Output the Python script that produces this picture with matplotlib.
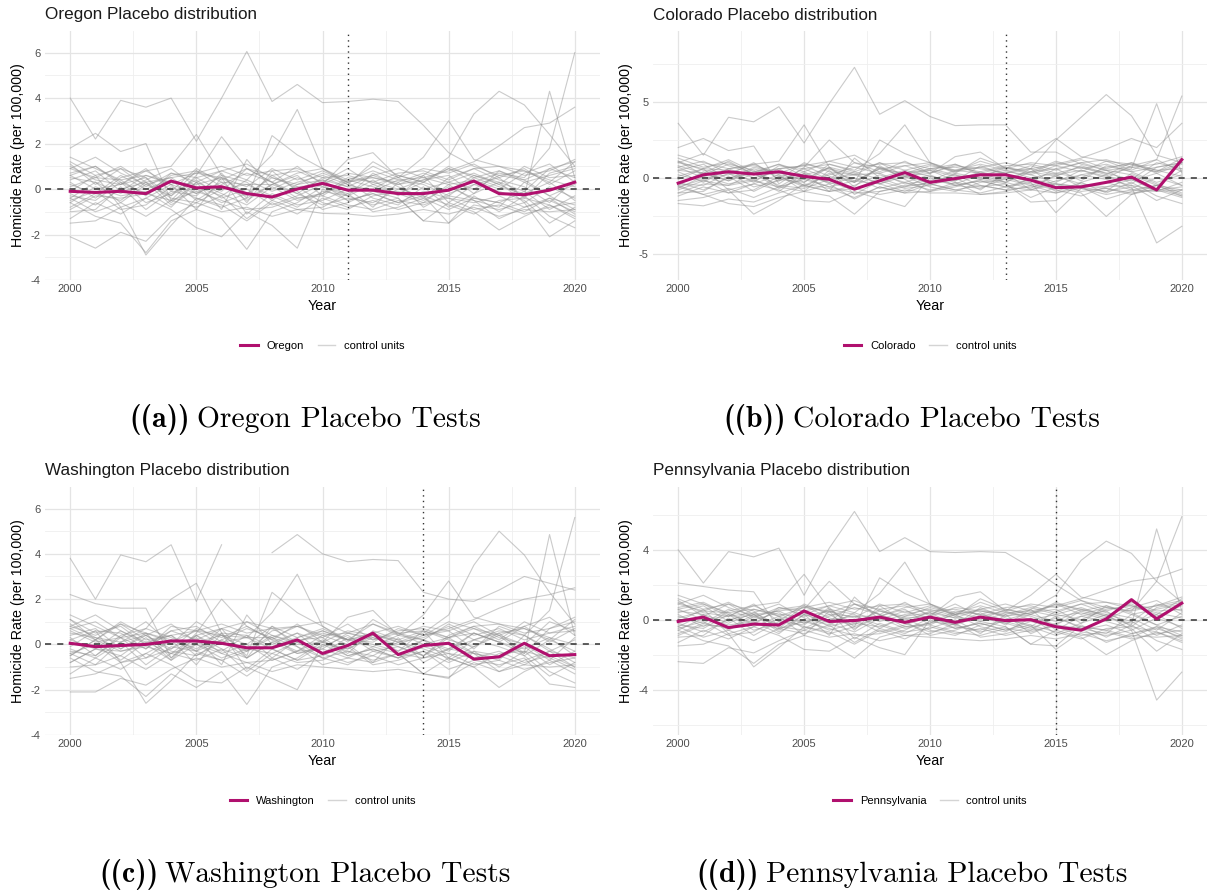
import numpy as np
import matplotlib
matplotlib.use("Agg")
import matplotlib.pyplot as plt
from matplotlib.lines import Line2D

plt.rcParams['font.family'] = ['Liberation Sans', 'DejaVu Sans']

years = list(range(2000, 2021))
nan = float('nan')

# ---- treated states (gap = actual - synthetic) ----
oregon = [-0.1, -0.15, -0.1, -0.2, 0.35, 0.05, 0.1, -0.2, -0.35, 0.0, 0.25,
          -0.05, -0.05, -0.2, -0.2, -0.05, 0.35, -0.2, -0.25, -0.05, 0.3]
colorado = [-0.35, 0.2, 0.4, 0.25, 0.4, 0.1, -0.1, -0.75, -0.2, 0.35, -0.3,
            -0.05, 0.2, 0.2, -0.15, -0.65, -0.6, -0.3, 0.05, -0.8, 1.2]
washington = [0.05, -0.1, -0.05, 0.0, 0.15, 0.15, 0.05, -0.15, -0.15, 0.2, -0.4,
              -0.05, 0.5, -0.45, -0.05, 0.05, -0.65, -0.55, 0.05, -0.5, -0.45]
pennsylvania = [-0.1, 0.15, -0.45, -0.25, -0.3, 0.5, -0.1, -0.05, 0.15, -0.15, 0.15,
                -0.15, 0.15, -0.05, 0.0, -0.4, -0.6, 0.05, 1.15, 0.05, 0.95]

# ---- placebo gaps of the donor states ----
oregon_controls = [
    [4.0, 2.2, 3.9, 3.6, 4.0, 2.1, 4.0, 6.05, 3.85, 4.6, 3.8, 3.85, 3.95, 3.85, 2.8, 1.6, 1.0, 0.6, 0.4, 0.9, 1.2],
    [0.6, 1.0, 0.2, 0.5, -0.3, 0.8, 0.4, 0.9, 0.3, -0.2, 0.5, 0.1, 0.6, 0.2, 0.4, 0.9, 0.3, 0.7, 0.5, 1.8, 6.0],
    [-0.4, 0.3, -0.6, 0.2, 0.5, -0.2, 0.3, -0.5, 0.2, 0.6, -0.3, 0.4, 0.1, -0.2, 0.3, -0.1, 0.6, 0.2, -0.3, 4.3, 0.5],
    [1.2, 0.6, 0.9, 0.1, 0.7, 0.3, 0.8, 1.1, 0.5, 0.2, 0.7, 0.3, 0.5, 0.2, 0.6, 1.4, 3.3, 4.3, 3.7, 2.4, 1.0],
    [1.4, 0.9, 0.4, 0.6, 0.2, 0.7, 0.5, 0.1, 0.9, 0.4, 0.8, 0.3, 0.6, 0.9, 0.5, 0.8, 1.2, 1.9, 2.7, 2.9, 3.6],
    [0.9, 1.4, 0.7, 0.2, -0.3, 0.5, 0.8, 0.4, 1.5, 3.5, 0.9, 0.3, 1.0, 0.5, 1.4, 3.0, 1.3, 1.0, 0.8, 0.3, 1.2],
    [1.8, 2.45, 1.65, 2.0, -0.5, 0.6, 2.3, 0.9, 0.3, 1.0, 0.2, 1.3, 1.6, 0.5, 0.9, 0.7, 1.1, 0.5, 0.9, 0.2, 0.8],
    [1.0, 0.4, 0.2, 0.8, 1.0, 2.4, 0.6, -0.4, 2.35, 1.5, 0.9, 0.2, 1.2, 0.6, 0.3, 1.0, 0.5, 0.8, 0.3, 0.6, 0.9],
    [-2.1, -2.6, -1.9, -2.3, -1.2, -0.6, -1.0, -0.8, -1.2, -0.9, -1.07, -1.1, -1.2, -1.1, -0.9, -1.1, -0.8, -1.2, -0.9, -1.0, -0.9],
    [-1.5, -1.4, -0.8, -2.9, -1.6, -0.4, -0.7, -1.4, -0.6, -1.1, -0.4, -0.8, -0.5, -0.9, -0.6, -0.4, -0.9, -0.7, -1.1, -0.8, -0.6],
    [-0.6, -1.2, -1.5, -2.8, -1.4, -0.9, -1.3, -2.65, -1.0, -0.6, 0.1, -0.3, -0.7, -0.4, -1.4, -0.6, -1.0, -1.8, -1.2, -0.7, -1.3],
    [-1.3, -0.6, -1.1, -0.4, -0.9, -1.7, -2.1, -1.0, -1.6, -2.6, 0.0, -0.5, -0.2, -0.6, -0.3, -1.5, -0.7, -0.9, -0.6, -2.1, -1.4],
    [0.5, 0.3, -0.2, 0.4, 0.9, 0.1, -0.3, 0.4, -0.1, 0.3, 0.6, 0.2, -0.1, 0.4, 0.2, -0.3, 0.5, 0.1, -0.2, 0.3, -0.5],
    [-0.3, -0.5, 0.3, -0.6, -0.2, 0.4, -0.4, 0.0, -0.7, -0.3, 0.2, -0.5, -0.2, -0.6, -0.1, -0.4, -0.6, -0.3, -0.8, -0.5, -1.0],
    [0.2, -0.2, 0.6, 0.0, 0.4, -0.5, 0.2, 0.7, 0.3, -0.4, -0.2, 0.5, 0.3, 0.0, 0.4, 0.6, -0.2, 0.8, 0.4, -0.3, 0.2],
    [-0.8, -0.2, -0.5, 0.3, -0.7, 0.0, -0.6, -0.2, -0.4, 0.1, -0.6, -0.9, -0.3, -0.1, -0.5, 0.1, -0.4, -0.6, -0.1, -0.9, -0.3],
    [0.7, 1.0, 0.3, -0.2, 0.6, 0.8, 0.1, -0.3, 0.6, 0.8, 0.3, 0.9, 0.2, 0.5, 0.0, 0.3, 0.7, 0.2, 1.0, 0.5, 0.6],
    [-0.1, 0.6, -0.8, -0.4, 0.2, -0.9, 0.5, -1.1, -0.2, -0.7, -0.5, 0.0, -0.8, 0.3, -0.8, -0.2, 0.2, -0.1, -0.5, -1.5, -0.8],
    [1.1, 0.2, 0.9, 0.5, -0.6, 0.3, -0.9, 1.3, 0.0, 0.5, 0.1, -0.2, 0.4, -0.3, 0.6, -0.6, 0.2, 0.5, -0.4, 0.7, 1.0],
    [-1.0, -0.9, 0.1, -0.9, -0.1, -0.3, 0.7, -0.6, 0.8, -0.1, -0.9, -0.6, -0.1, -0.4, -1.4, -1.5, -0.3, -1.0, -0.3, -1.2, -1.7],
    [0.3, -0.4, 0.5, 0.8, 0.2, -0.2, 0.6, 0.3, -0.5, 0.2, 0.4, -0.3, 0.7, 0.1, -0.4, 0.5, 0.9, 0.4, 0.1, -0.6, 0.4],
    [-0.6, 0.1, -0.3, -0.1, -0.8, 0.3, -0.2, -0.7, 0.1, -0.5, -0.2, 0.3, -0.4, -0.7, 0.1, -0.8, -0.2, 0.3, -0.6, 0.1, -0.4],
    [0.9, 0.5, 1.0, 0.3, 0.5, 0.7, 1.0, 0.6, 0.8, 0.9, 0.5, 0.6, 0.3, 0.7, 0.8, 0.4, 0.9, 1.0, 0.6, 0.8, 1.3],
    [-0.2, -0.7, 0.0, 0.3, -0.4, -0.6, 0.0, 0.2, -0.3, -0.8, -0.1, -0.3, 0.2, -0.2, -0.6, 0.2, -0.5, -0.8, 0.3, -0.3, -0.9],
    [0.4, 0.8, -0.1, 0.6, 0.3, 0.2, 0.5, -0.2, 0.5, 0.1, 0.2, 0.7, 0.5, 0.3, 0.7, 0.3, 0.0, 0.6, 0.8, 0.4, 0.1],
    [-0.5, -0.1, -0.9, -0.7, 0.1, -0.4, -0.8, -0.4, 0.2, -0.2, -0.7, -0.4, -0.6, 0.0, -0.3, -0.7, -1.1, -0.5, -0.4, -0.7, -1.2],
    [0.1, 0.5, 0.4, -0.3, 0.7, 0.5, -0.1, 0.9, 0.6, 0.0, 0.4, 0.1, 0.0, 0.6, 0.3, 0.9, 0.6, 0.3, -0.1, 0.9, 0.5],
    [-0.9, -0.3, -0.4, -0.2, -0.5, -0.1, -0.5, -0.9, -0.8, -0.4, -0.3, -0.7, -0.9, -0.5, -0.7, -0.3, -0.5, -1.3, -0.8, -0.4, -0.7],
    [0.6, 0.0, 0.2, 0.9, -0.1, 0.9, 0.3, 0.2, 0.2, 0.7, 0.9, 0.4, 0.8, 0.4, 0.5, 0.2, 0.4, 0.0, 0.7, 1.1, 0.3],
    [-0.4, -1.0, -0.6, -1.2, -0.5, -0.8, -0.3, -1.3, -0.5, -0.9, -0.8, -0.2, -1.0, -0.8, -0.4, -0.9, -0.4, -0.6, -1.0, -0.4, -1.1],
]

colorado_controls = [
    [3.6, 1.5, 4.0, 3.7, 4.7, 2.3, 4.9, 7.3, 4.2, 5.1, 4.05, 3.45, 3.5, 3.5, 1.7, 1.7, 0.9, 0.5, 0.7, 0.4, 1.0],
    [0.8, 0.3, 1.1, 0.2, 0.6, -0.3, 0.9, 0.4, 1.0, 0.1, 0.6, 0.9, 0.3, 0.7, 0.2, 0.8, 0.4, 1.1, 0.5, 1.2, 5.4],
    [-0.5, 0.4, -0.2, 0.6, 0.1, -0.6, 0.3, -0.3, 0.7, 0.2, -0.4, 0.3, 0.0, -0.3, 0.4, 0.1, 0.8, 0.3, 0.6, 4.9, 0.3],
    [1.3, 0.7, 1.0, 0.3, 0.9, 0.4, 1.1, 1.5, 0.6, 0.3, 0.8, 0.5, 0.7, 0.3, 0.6, 2.5, 4.0, 5.5, 4.1, 1.5, 1.0],
    [1.5, 1.0, 0.6, 0.8, 0.3, 0.9, 0.6, 0.2, 1.0, 0.5, 0.9, 0.4, 0.7, 1.0, 0.6, 0.9, 1.3, 1.9, 2.6, 2.0, 3.6],
    [1.0, 1.6, 0.8, 0.3, -0.2, 0.6, 0.9, 0.5, 1.6, 3.5, 1.0, 0.4, 1.1, 0.6, 1.5, 2.6, 1.4, 1.1, 0.9, 0.4, 1.3],
    [2.0, 2.6, 1.8, 2.1, -0.4, 0.7, 2.5, 1.0, 0.4, 1.1, 0.3, 1.4, 1.7, 0.6, 1.0, 0.8, 1.2, 0.6, 1.0, 0.3, 0.9],
    [1.1, 0.5, 0.3, 0.9, 1.1, 3.5, 0.7, -0.3, 2.5, 1.6, 1.0, 0.3, 1.3, 0.7, 0.4, 1.1, 0.6, 0.9, 0.4, 0.7, 1.0],
    [-1.7, -1.85, -1.4, -1.6, -1.0, -0.5, -0.9, -0.7, -1.1, -0.8, -1.0, -1.0, -1.1, -1.0, -0.8, -1.0, -0.7, -1.1, -0.8, -0.9, -0.8],
    [-1.5, -1.3, -0.8, -2.4, -1.5, -0.4, -0.7, -1.3, -0.6, -1.0, -0.4, -0.8, -0.5, -0.8, -0.6, -0.4, -0.9, -0.7, -1.0, -0.8, -0.6],
    [-0.6, -1.1, -1.7, -1.9, -1.3, -0.9, -1.2, -2.4, -0.9, -0.6, 0.1, -0.3, -0.6, -0.4, -1.3, -0.6, -1.0, -2.55, -1.1, -0.7, -1.2],
    [-1.2, -0.6, -1.0, -0.4, -0.8, -1.5, -1.6, -0.9, -1.4, -1.9, 0.0, -0.5, -0.2, -0.6, -0.3, -2.3, -0.7, -0.9, -0.6, -4.3, -3.2],
    [0.5, 0.3, -0.2, 0.4, 0.9, 0.1, -0.3, 0.4, -0.1, 0.3, 0.6, 0.2, -0.1, 0.4, 0.2, -0.3, 0.5, 0.1, -0.2, 0.3, -0.5],
    [-0.4, -0.5, 0.3, -0.6, -0.2, 0.4, -0.4, 0.0, -0.7, -0.3, 0.2, -0.5, -0.2, -0.6, -0.1, -0.4, -0.6, -0.3, -0.8, -0.5, -1.1],
    [0.2, -0.2, 0.6, 0.0, 0.4, -0.5, 0.2, 0.7, 0.3, -0.4, -0.2, 0.5, 0.3, 0.0, 0.4, 0.6, -0.2, 0.8, 0.4, -0.3, 0.2],
    [-0.8, -0.2, -0.5, 0.3, -0.7, 0.0, -0.6, -0.2, -0.4, 0.1, -0.6, -0.9, -0.3, -0.1, -0.5, 0.1, -0.4, -0.6, -0.1, -0.9, -0.3],
    [0.7, 1.1, 0.3, -0.2, 0.6, 0.8, 0.1, -0.3, 0.6, 0.8, 0.3, 0.9, 0.2, 0.5, 0.0, 0.3, 0.7, 0.2, 1.0, 0.5, 0.6],
    [-0.1, 0.6, -0.8, -0.4, 0.2, -0.9, 0.5, -1.1, -0.2, -0.7, -0.5, 0.0, -0.8, 0.3, -0.8, -0.2, 0.2, -0.1, -0.5, -1.5, -0.8],
    [1.1, 0.2, 0.9, 0.5, -0.6, 0.3, -0.9, 1.3, 0.0, 0.5, 0.1, -0.2, 0.4, -0.3, 0.6, -0.6, 0.2, 0.5, -0.4, 0.7, 1.0],
    [-1.0, -0.9, 0.1, -0.9, -0.1, -0.3, 0.7, -0.6, 0.8, -0.1, -0.9, -0.6, -0.1, -0.4, -1.6, -1.5, -0.3, -1.0, -0.3, -1.2, -1.7],
    [0.4, -0.3, 0.6, 0.9, 0.2, -0.1, 0.7, 0.3, -0.4, 0.3, 0.5, -0.2, 0.8, 0.2, -0.3, 0.6, 1.0, 0.5, 0.2, -0.5, 0.5],
    [-0.7, 0.1, -0.4, -0.1, -0.9, 0.3, -0.3, -0.8, 0.0, -0.6, -0.3, 0.2, -0.5, -0.8, 0.0, -0.9, -0.3, 0.2, -0.7, 0.0, -0.5],
    [1.0, 0.6, 1.2, 0.4, 0.6, 0.8, 1.1, 0.7, 0.9, 1.0, 0.6, 0.7, 0.4, 0.8, 0.9, 0.5, 1.0, 1.2, 0.7, 0.9, 1.4],
    [-0.3, -0.8, 0.0, 0.3, -0.5, -0.7, -0.1, 0.2, -0.4, -0.9, -0.2, -0.4, 0.2, -0.3, -0.7, 0.2, -0.6, -0.9, 0.3, -0.4, -1.0],
    [0.5, 0.9, -0.1, 0.7, 0.3, 0.2, 0.6, -0.2, 0.6, 0.1, 0.3, 0.8, 0.6, 0.3, 0.8, 0.3, 0.0, 0.7, 0.9, 0.5, 0.1],
    [-0.6, -0.1, -1.0, -0.8, 0.1, -0.5, -0.9, -0.5, 0.2, -0.3, -0.8, -0.5, -0.7, 0.0, -0.4, -0.8, -1.2, -0.6, -0.5, -0.8, -1.3],
    [0.1, 0.6, 0.5, -0.3, 0.8, 0.6, -0.1, 1.0, 0.7, 0.0, 0.5, 0.1, 0.0, 0.7, 0.3, 1.0, 0.7, 0.3, -0.1, 1.0, 0.6],
    [-1.0, -0.4, -0.5, -0.2, -0.6, -0.1, -0.6, -1.0, -0.9, -0.5, -0.4, -0.8, -1.0, -0.6, -0.8, -0.4, -0.6, -1.4, -0.9, -0.5, -0.8],
    [0.7, 0.0, 0.2, 1.0, -0.1, 1.0, 0.4, 0.2, 0.3, 0.8, 1.0, 0.5, 0.9, 0.5, 0.6, 0.2, 0.5, 0.0, 0.8, 1.2, 0.4],
    [-0.5, -1.1, -0.7, -1.3, -0.6, -0.9, -0.4, -1.4, -0.6, -1.0, -0.9, -0.3, -1.1, -0.9, -0.5, -1.0, -0.5, -0.7, -1.1, -0.5, -1.2],
]

washington_controls = [
    [3.8, 2.0, 3.95, 3.65, 4.4, 1.9, 4.4, nan, 4.05, 4.85, 4.0, 3.65, 3.75, 3.7, 2.3, 2.0, 1.9, 2.4, 3.0, 2.7, 2.4],
    [0.7, 0.2, 1.0, 0.4, -0.2, 0.7, 0.3, 0.8, 0.2, -0.3, 0.4, 0.0, 0.5, 0.1, 0.3, 0.8, 0.2, 0.6, 0.4, 1.5, 5.6],
    [-0.5, 0.2, -0.7, 0.1, 0.4, -0.3, 0.2, -0.6, 0.1, 0.5, -0.4, 0.3, 0.0, -0.3, 0.2, -0.2, 0.5, 0.1, -0.4, 4.85, 0.4],
    [1.1, 0.5, 0.8, 0.0, 0.6, 0.2, 0.7, 1.0, 0.4, 0.1, 0.6, 0.2, 0.4, 0.1, 0.5, 1.3, 3.5, 5.0, 3.95, 2.3, 0.9],
    [1.3, 0.8, 0.3, 0.5, 0.1, 0.6, 0.4, 0.0, 0.8, 0.3, 0.7, 0.2, 0.5, 0.8, 0.4, 0.7, 1.1, 1.6, 2.0, 2.2, 2.5],
    [0.8, 1.3, 0.6, 0.1, -0.4, 0.4, 0.7, 0.3, 1.4, 3.1, 0.8, 0.2, 0.9, 0.4, 1.3, 2.8, 1.2, 0.9, 0.7, 0.2, 1.1],
    [2.2, 1.8, 1.6, 1.6, -0.6, 0.5, 2.0, 0.8, 0.2, 0.9, 0.1, 1.2, 1.5, 0.4, 0.8, 0.6, 1.0, 0.4, 0.8, 0.1, 0.7],
    [0.9, 0.3, 0.1, 0.7, 2.0, 2.7, 0.5, -0.5, 2.3, 1.4, 0.8, 0.1, 1.1, 0.5, 0.2, 0.9, 0.4, 0.7, 0.2, 0.5, 0.8],
    [-2.1, -2.1, -1.5, -1.8, -1.1, -0.6, -1.0, -0.8, -1.2, -0.9, -1.0, -1.1, -1.2, -1.1, -1.3, -1.45, -0.8, -1.2, -0.9, -1.0, -0.9],
    [-1.5, -1.3, -0.8, -2.6, -1.6, -0.4, -0.7, -1.4, -0.6, -1.1, -0.4, -0.8, -0.5, -0.9, -0.6, -0.4, -0.9, -0.7, -1.1, -0.8, -0.6],
    [-0.6, -1.2, -1.4, -2.3, -1.3, -1.9, -1.2, -2.65, -1.0, -0.6, 0.1, -0.3, -0.7, -0.4, -1.3, -0.6, -1.0, -1.9, -1.2, -0.7, -1.3],
    [-1.3, -0.6, -1.1, -0.4, -0.9, -1.6, -1.7, -1.0, -1.5, -2.0, 0.0, -0.5, -0.2, -0.6, -0.3, -1.1, -0.7, -0.9, -0.6, -1.75, -1.9],
    [0.5, 0.3, -0.2, 0.4, 0.9, 0.1, -0.3, 0.4, -0.1, 0.3, 0.6, 0.2, -0.1, 0.4, 0.2, -0.3, 0.5, 0.1, -0.2, 0.3, -0.5],
    [-0.3, -0.5, 0.3, -0.6, -0.2, 0.4, -0.4, 0.0, -0.7, -0.3, 0.2, -0.5, -0.2, -0.6, -0.1, -0.4, -0.6, -0.3, -0.8, -0.5, -1.0],
    [0.2, -0.2, 0.6, 0.0, 0.4, -0.5, 0.2, 0.7, 0.3, -0.4, -0.2, 0.5, 0.3, 0.0, 0.4, 0.6, -0.2, 0.8, 0.4, -0.3, 0.2],
    [-0.8, -0.2, -0.5, 0.3, -0.7, 0.0, -0.6, -0.2, -0.4, 0.1, -0.6, -0.9, -0.3, -0.1, -0.5, 0.1, -0.4, -0.6, -0.1, -0.9, -0.3],
    [0.7, 1.0, 0.3, -0.2, 0.6, 0.8, 0.1, -0.3, 0.6, 0.8, 0.3, 0.9, 0.2, 0.5, 0.0, 0.3, 0.7, 0.2, 1.0, 0.5, 0.6],
    [-0.1, 0.6, -0.8, -0.4, 0.2, -0.9, 0.5, -1.1, -0.2, -0.7, -0.5, 0.0, -0.8, 0.3, -0.8, -0.2, 0.2, -0.1, -0.5, -1.4, -0.8],
    [1.1, 0.2, 0.9, 0.5, -0.6, 0.3, -0.9, 1.3, 0.0, 0.5, 0.1, -0.2, 0.4, -0.3, 0.6, -0.6, 0.2, 0.5, -0.4, 0.7, 1.0],
    [-1.0, -0.9, 0.1, -0.9, -0.1, -0.3, 0.7, -0.6, 0.8, -0.1, -0.9, -0.6, -0.1, -0.4, -1.3, -1.5, -0.3, -1.0, -0.3, -1.2, -1.7],
    [0.3, -0.5, 0.4, 0.7, 0.3, -0.2, 0.5, 0.4, -0.6, 0.2, 0.3, -0.4, 0.6, 0.2, -0.5, 0.4, 0.8, 0.3, 0.0, -0.7, 0.3],
    [-0.5, 0.2, -0.3, 0.0, -0.7, 0.4, -0.2, -0.6, 0.1, -0.4, -0.1, 0.4, -0.3, -0.6, 0.2, -0.7, -0.1, 0.4, -0.5, 0.2, -0.3],
    [0.8, 0.4, 0.9, 0.2, 0.4, 0.6, 0.9, 0.5, 0.7, 0.8, 0.4, 0.5, 0.2, 0.6, 0.7, 0.3, 0.8, 0.9, 0.5, 0.7, 1.2],
    [-0.2, -0.6, 0.1, 0.4, -0.3, -0.5, 0.1, 0.3, -0.2, -0.7, 0.0, -0.2, 0.3, -0.1, -0.5, 0.3, -0.4, -0.7, 0.4, -0.2, -0.8],
    [0.4, 0.7, -0.2, 0.5, 0.2, 0.1, 0.4, -0.3, 0.4, 0.0, 0.1, 0.6, 0.4, 0.2, 0.6, 0.2, -0.1, 0.5, 0.7, 0.3, 0.0],
    [-0.4, 0.0, -0.8, -0.6, 0.2, -0.3, -0.7, -0.3, 0.3, -0.1, -0.6, -0.3, -0.5, 0.1, -0.2, -0.6, -1.0, -0.4, -0.3, -0.6, -1.1],
    [0.2, 0.6, 0.5, -0.2, 0.8, 0.6, 0.0, 1.0, 0.7, 0.1, 0.5, 0.2, 0.1, 0.7, 0.4, 1.0, 0.7, 0.4, 0.0, 1.0, 0.6],
    [-0.8, -0.2, -0.3, -0.1, -0.4, 0.0, -0.4, -0.8, -0.7, -0.3, -0.2, -0.6, -0.8, -0.4, -0.6, -0.2, -0.4, -1.2, -0.7, -0.3, -0.6],
    [0.6, 0.1, 0.3, 1.0, 0.0, 1.0, 0.4, 0.3, 0.3, 0.8, 1.0, 0.5, 0.9, 0.5, 0.6, 0.3, 0.5, 0.1, 0.8, 1.2, 0.4],
    [-0.4, -0.9, -0.5, -1.1, -0.4, -0.7, -0.2, -1.2, -0.4, -0.8, -0.7, -0.1, -0.9, -0.7, -0.3, -0.8, -0.3, -0.5, -0.9, -0.3, -1.0],
]

pennsylvania_controls = [
    [4.0, 2.1, 3.9, 3.6, 4.1, 1.4, 4.1, 6.2, 3.9, 4.7, 3.9, 3.85, 3.9, 3.85, 3.0, 2.0, 1.1, 0.7, 0.5, 0.8, 1.1],
    [0.6, 0.9, 0.2, 0.4, -0.3, 0.8, 0.4, 0.9, 0.3, -0.2, 0.5, 0.1, 0.6, 0.2, 0.4, 0.9, 0.3, 0.7, 0.5, 2.2, 5.9],
    [-0.4, 0.3, -0.6, 0.2, 0.5, -0.2, 0.3, -0.5, 0.2, 0.6, -0.3, 0.4, 0.1, -0.2, 0.3, -0.1, 0.6, 0.2, -0.3, 5.2, 0.5],
    [1.2, 0.6, 0.9, 0.1, 0.7, 0.3, 0.8, 1.1, 0.5, 0.2, 0.7, 0.3, 0.5, 0.2, 0.6, 1.4, 3.4, 4.5, 3.8, 2.2, 1.0],
    [1.4, 0.9, 0.4, 0.6, 0.2, 0.7, 0.5, 0.1, 0.9, 0.4, 0.8, 0.3, 0.6, 0.9, 0.5, 0.8, 1.2, 1.7, 2.2, 2.4, 2.9],
    [0.9, 1.4, 0.7, 0.2, -0.3, 0.5, 0.8, 0.4, 1.5, 3.3, 0.9, 0.3, 1.0, 0.5, 1.4, 2.6, 1.3, 1.0, 0.8, 0.3, 1.2],
    [2.1, 1.9, 1.7, 1.6, -0.5, 0.6, 2.2, 0.9, 0.3, 1.0, 0.2, 1.3, 1.6, 0.5, 0.9, 0.7, 1.1, 0.5, 0.9, 0.2, 0.8],
    [1.0, 0.4, 0.2, 0.8, 1.0, 2.6, 0.6, -0.4, 2.4, 1.5, 0.9, 0.2, 1.2, 0.6, 0.3, 1.0, 0.5, 0.8, 0.3, 0.6, 0.9],
    [-2.4, -2.5, -1.6, -1.9, -1.2, -0.6, -1.0, -0.8, -1.2, -0.9, -1.0, -1.1, -1.2, -1.1, -0.9, -1.1, -0.8, -1.2, -0.9, -1.0, -0.9],
    [-1.5, -1.4, -0.8, -2.7, -1.6, -0.4, -0.7, -1.4, -0.6, -1.1, -0.4, -0.8, -0.5, -0.9, -0.6, -0.4, -0.9, -0.7, -1.1, -0.8, -0.6],
    [-0.6, -1.2, -1.5, -2.5, -1.4, -0.9, -1.3, -2.2, -1.0, -0.6, 0.1, -0.3, -0.7, -0.4, -1.4, -0.6, -1.0, -2.0, -1.2, -0.7, -1.3],
    [-1.3, -0.6, -1.1, -0.4, -0.9, -1.7, -1.8, -1.0, -1.6, -2.0, 0.0, -0.5, -0.2, -0.6, -0.3, -1.7, -0.7, -0.9, -0.6, -4.6, -3.0],
    [0.5, 0.3, -0.2, 0.4, 0.9, 0.1, -0.3, 0.4, -0.1, 0.3, 0.6, 0.2, -0.1, 0.4, 0.2, -0.3, 0.5, 0.1, -0.2, 0.3, -0.5],
    [-0.3, -0.5, 0.3, -0.6, -0.2, 0.4, -0.4, 0.0, -0.7, -0.3, 0.2, -0.5, -0.2, -0.6, -0.1, -0.4, -0.6, -0.3, -0.8, -0.5, -1.0],
    [0.2, -0.2, 0.6, 0.0, 0.4, -0.5, 0.2, 0.7, 0.3, -0.4, -0.2, 0.5, 0.3, 0.0, 0.4, 0.6, -0.2, 0.8, 0.4, -0.3, 0.2],
    [-0.8, -0.2, -0.5, 0.3, -0.7, 0.0, -0.6, -0.2, -0.4, 0.1, -0.6, -0.9, -0.3, -0.1, -0.5, 0.1, -0.4, -0.6, -0.1, -0.9, -0.3],
    [0.7, 1.0, 0.3, -0.2, 0.6, 0.8, 0.1, -0.3, 0.6, 0.8, 0.3, 0.9, 0.2, 0.5, 0.0, 0.3, 0.7, 0.2, 1.0, 0.5, 0.6],
    [-0.1, 0.6, -0.8, -0.4, 0.2, -0.9, 0.5, -1.1, -0.2, -0.7, -0.5, 0.0, -0.8, 0.3, -0.8, -0.2, 0.2, -0.1, -0.5, -1.8, -0.8],
    [1.1, 0.2, 0.9, 0.5, -0.6, 0.3, -0.9, 1.3, 0.0, 0.5, 0.1, -0.2, 0.4, -0.3, 0.6, -0.6, 0.2, 0.5, -0.4, 0.7, 1.0],
    [-1.0, -0.9, 0.1, -0.9, -0.1, -0.3, 0.7, -0.6, 0.8, -0.1, -0.9, -0.6, -0.1, -0.4, -1.4, -1.5, -0.3, -1.0, -0.3, -1.2, -1.7],
    [0.3, -0.4, 0.5, 0.8, 0.2, -0.2, 0.6, 0.3, -0.5, 0.2, 0.4, -0.3, 0.7, 0.1, -0.4, 0.5, 0.9, 0.4, 0.1, -0.6, 0.4],
    [-0.6, 0.1, -0.3, -0.1, -0.8, 0.3, -0.2, -0.7, 0.1, -0.5, -0.2, 0.3, -0.4, -0.7, 0.1, -0.8, -0.2, 0.3, -0.6, 0.1, -0.4],
    [0.9, 0.5, 1.0, 0.3, 0.5, 0.7, 1.0, 0.6, 0.8, 0.9, 0.5, 0.6, 0.3, 0.7, 0.8, 0.4, 0.9, 1.0, 0.6, 0.8, 1.3],
    [-0.2, -0.7, 0.0, 0.3, -0.4, -0.6, 0.0, 0.2, -0.3, -0.8, -0.1, -0.3, 0.2, -0.2, -0.6, 0.2, -0.5, -0.8, 0.3, -0.3, -0.9],
    [0.4, 0.8, -0.1, 0.6, 0.3, 0.2, 0.5, -0.2, 0.5, 0.1, 0.2, 0.7, 0.5, 0.3, 0.7, 0.3, 0.0, 0.6, 0.8, 0.4, 0.1],
    [-0.5, -0.1, -0.9, -0.7, 0.1, -0.4, -0.8, -0.4, 0.2, -0.2, -0.7, -0.4, -0.6, 0.0, -0.3, -0.7, -1.1, -0.5, -0.4, -0.7, -1.2],
    [0.1, 0.5, 0.4, -0.3, 0.7, 0.5, -0.1, 0.9, 0.6, 0.0, 0.4, 0.1, 0.0, 0.6, 0.3, 0.9, 0.6, 0.3, -0.1, 0.9, 0.5],
    [-0.9, -0.3, -0.4, -0.2, -0.5, -0.1, -0.5, -0.9, -0.8, -0.4, -0.3, -0.7, -0.9, -0.5, -0.7, -0.3, -0.5, -1.3, -0.8, -0.4, -0.7],
    [0.6, 0.0, 0.2, 0.9, -0.1, 0.9, 0.3, 0.2, 0.2, 0.7, 0.9, 0.4, 0.8, 0.4, 0.5, 0.2, 0.4, 0.0, 0.7, 1.1, 0.3],
    [-0.4, -1.0, -0.6, -1.2, -0.5, -0.8, -0.3, -1.3, -0.5, -0.9, -0.8, -0.2, -1.0, -0.8, -0.4, -0.9, -0.4, -0.6, -1.0, -0.4, -1.1],
]

state_names = ["Oregon", "Colorado", "Washington", "Pennsylvania"]
treat_years = [2011, 2013, 2014, 2015]
panel_letters = ["a", "b", "c", "d"]
y_limits = [(-4.0, 6.95), (-6.75, 9.7), (-4.0, 6.95), (-6.6, 7.6)]
y_major = [[-4, -2, 0, 2, 4, 6], [-5, 0, 5], [-4, -2, 0, 2, 4, 6], [-4, 0, 4]]
y_minor = [[-3, -1, 1, 3, 5], [-2.5, 2.5, 7.5], [-3, -1, 1, 3, 5], [-6, -2, 2, 6]]
treated = [oregon, colorado, washington, pennsylvania]
controls = [oregon_controls, colorado_controls, washington_controls, pennsylvania_controls]

MAGENTA = '#B0106E'
W, H = 1207, 893
fig = plt.figure(figsize=(W / 100, H / 100), dpi=100)
renderer = fig.canvas.get_renderer()

# panel boxes in pixels: left, top, right, bottom
boxes = [(45, 31, 600, 280), (653, 31, 1207, 280),
         (45, 487, 600, 735), (653, 487, 1207, 735)]
caption_x = [305, 912, 305, 912]

for i in range(4):
    l, t, r, b = boxes[i]
    ax = fig.add_axes([l / W, 1 - b / H, (r - l) / W, (b - t) / H])
    for ctrl in controls[i]:
        ax.plot(years, ctrl, color='#909090', alpha=0.47, lw=0.8, zorder=2)
    ax.axhline(0, color='#333333', lw=1.1, ls=(0, (4, 4)), zorder=3)
    ax.axvline(treat_years[i], color='#333333', lw=1.0, ls=(0, (1, 3)), zorder=3)
    ax.plot(years, treated[i], color=MAGENTA, lw=2.2, zorder=4)

    ax.set_xticks([2000, 2005, 2010, 2015, 2020])
    ax.set_xticks([2002.5, 2007.5, 2012.5, 2017.5], minor=True)
    ax.set_yticks(y_major[i])
    ax.set_yticks(y_minor[i], minor=True)
    ax.set_yticklabels([str(v) for v in y_major[i]])
    ax.set_xlim(1999, 2021)
    ax.set_ylim(*y_limits[i])
    ax.tick_params(which='both', length=0, labelsize=8, labelcolor='#4d4d4d', pad=3)
    ax.grid(which='major', color='#e4e4e4', lw=0.9)
    ax.grid(which='minor', color='#efefef', lw=0.6)
    ax.set_axisbelow(True)
    for s in ax.spines.values():
        s.set_visible(False)

    cx = (l + r) / 2
    fig.text(l / W, 1 - (t - 16) / H, f"{state_names[i]} Placebo distribution",
             fontsize=12.3, ha='left', va='center', color='#1a1a1a')
    fig.text((l - 27) / W, 1 - (t + b) / 2 / H, "Homicide Rate (per 100,000)",
             fontsize=10.3, rotation=90, ha='center', va='center')
    fig.text(cx / W, 1 - (b + 26) / H, "Year", fontsize=10.3, ha='center', va='center')

    handles = [Line2D([], [], color=MAGENTA, lw=2.2),
               Line2D([], [], color='#d4d4d4', lw=1.0)]
    fig.legend(handles, [state_names[i], "control units"], loc='center',
               bbox_to_anchor=(cx / W, 1 - (b + 66) / H), ncol=2, frameon=False,
               fontsize=8, handlelength=1.6, handletextpad=0.8, columnspacing=1.2)

    # sub-figure caption: bold "((x))" followed by regular text
    cy = 1 - (b + 138) / H
    t_bold = fig.text(0, cy, f"(({panel_letters[i]}))", fontfamily='cmb10',
                      fontsize=21.3, ha='left', va='baseline')
    t_reg = fig.text(0, cy, f"{state_names[i]} Placebo Tests", fontfamily='cmr10',
                     fontsize=21.3, ha='left', va='baseline')
    w1 = t_bold.get_window_extent(renderer).width
    w2 = t_reg.get_window_extent(renderer).width
    gap = 7
    x0 = caption_x[i] - (w1 + gap + w2) / 2
    t_bold.set_x(x0 / W)
    t_reg.set_x((x0 + w1 + gap) / W)
    t_bold.set_y(cy - 9 / H)
    t_reg.set_y(cy - 9 / H)

fig.savefig("out.png", dpi=100)
